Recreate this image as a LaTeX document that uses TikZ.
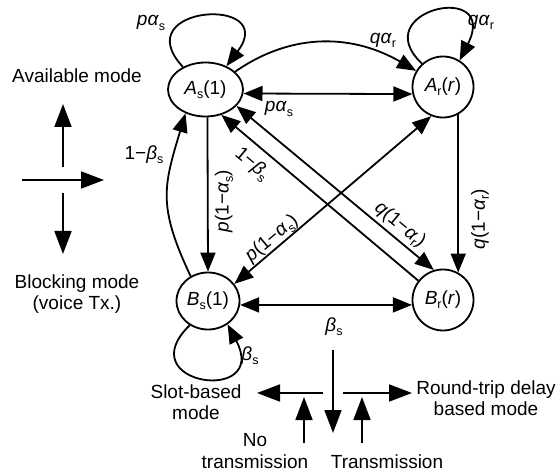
\documentclass[tikz,border=0pt]{standalone}
\usepackage{fontspec}
\setmainfont{Liberation Sans}
\usetikzlibrary{arrows.meta,shapes.geometric}
\newcommand\sbs[1]{\raisebox{-0.22em}{\fontsize{12.5}{12.5}\selectfont #1}}
\begin{document}
\begin{tikzpicture}[x=1pt,y=-1pt,line width=1.8pt,
  font=\fontsize{19}{21.5}\selectfont,
  st/.style={draw,ellipse,inner sep=0pt},
  stc/.style={draw,circle,inner sep=0pt,minimum size=61pt},
  ar/.style={-{Triangle[length=19pt,width=15pt]}},
  dar/.style={{Triangle[length=19pt,width=15pt]}-{Triangle[length=19pt,width=15pt]}},
  lar/.style={-{Triangle[length=23pt,width=17pt]}},
  lbl/.style={inner sep=1pt}]
\useasboundingbox (0,0) rectangle (560,473);
% states
\node[st,minimum width=75pt,minimum height=54pt] (As) at (205.5,89.5) {\textit{A}\sbs{s}(1)};
\node[stc] (Ar) at (443,87) {\textit{A}\sbs{r}(\textit{r})};
\node[st,minimum width=63pt,minimum height=57pt] (Bs) at (208,301) {\textit{B}\sbs{s}(1)};
\node[stc] (Br) at (443,300) {\textit{B}\sbs{r}(\textit{r})};
% straight transitions
\draw[dar] (As.-6) -- (Ar.193);
\draw[dar] (Bs.-7) -- (Br.189);
\draw[ar] (As.-86) -- (Bs.north);
\draw[ar] (Ar.-61) -- (Br.61);
\draw[dar] (Bs.33) -- (Ar.248);
\draw[dar] (As.-28) -- (Br.107);
\draw[ar] (Br.142) -- (As.-58);
% curved transitions
\draw[ar] (As.31) .. controls (294.5,30.4) and (355,35.5) .. (Ar.149);
\draw[ar] (Bs.125) .. controls (157.5,206) and (163.5,186.6) .. (As.-130);
% self loops
\draw[ar] (As.135) .. controls (125,5) and (280,-5) .. (As.48);
\draw[ar] (Ar.132) .. controls (365,10) and (500,-20) .. (Ar.58);
\draw[ar] (Bs.-127) .. controls (128,385) and (270,405) .. (Bs.-50);
% labels
\node[lbl] (l1) at (151,23) {\textit{pα}\sbs{s}};
\node[lbl] (l2) at (383,40) {\textit{qα}\sbs{r}};
\node[lbl] (l3) at (481,22) {\textit{qα}\sbs{r}};
\node[lbl] (l4) at (279,109) {\textit{pα}\sbs{s}};
\node[lbl] (l5) at (144,155) {1−\textit{β}\sbs{s}};
\node[lbl,rotate=90] (l6) at (224,201) {\textit{p}(1−\textit{α}\sbs{s})};
\node[lbl,rotate=90] (l7) at (480,219) {\textit{q}(1−\textit{α}\sbs{r})};
\node[lbl,rotate=-40] (l8) at (252,164) {1−\textit{β}\sbs{s}};
\node[lbl,rotate=-40] (l9) at (400,225) {\textit{q}(1−\textit{α}\sbs{r})};
\node[lbl,rotate=40] (l10) at (272,239) {\textit{p}(1−\textit{α}\sbs{s})};
\node[lbl] (l11) at (334,327) {\textit{β}\sbs{s}};
\node[lbl] (l12) at (250,356) {\textit{β}\sbs{s}};
% left legend
\node (avail) at (77,76) {Available mode};
\node[align=center] (block) at (77,294) {Blocking mode\\(voice Tx.)};
\coordinate (u0) at (63,167); \coordinate (u1) at (63,104);
\coordinate (h0) at (22,180); \coordinate (h1) at (104,180);
\coordinate (d0) at (63,193); \coordinate (d1) at (63,254);
\draw[lar] (u0) -- (u1);
\draw[lar] (h0) -- (h1);
\draw[lar] (d0) -- (d1);
% bottom legend
\node[align=center] (slot) at (196,402) {Slot-based\\mode};
\node[align=center] (rtd) at (486,398) {Round-trip delay\\based mode};
\node[align=center] (notx) at (255,451) {No\\transmission};
\node (tx) at (387,462) {Transmission};
\coordinate (a0) at (323,393); \coordinate (a1) at (257,393);
\coordinate (b0) at (343,393); \coordinate (b1) at (412,393);
\coordinate (c0) at (333,350); \coordinate (c1) at (333,433);
\coordinate (e0) at (304,443); \coordinate (e1) at (304,397);
\coordinate (f0) at (362,443); \coordinate (f1) at (362,397);
\draw[lar] (a0) -- (a1);
\draw[lar] (b0) -- (b1);
\draw[lar] (c0) -- (c1);
\draw[lar] (e0) -- (e1);
\draw[lar] (f0) -- (f1);
\end{tikzpicture}
\end{document}
